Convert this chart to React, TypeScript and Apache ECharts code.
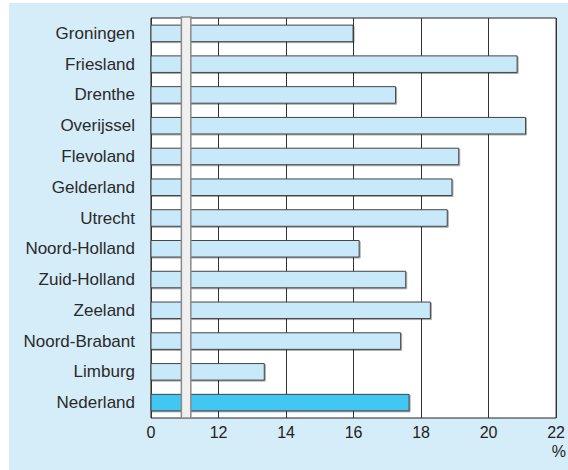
import React, { useEffect, useRef } from "react";
import * as echarts from "echarts";

const regions = [
  "Groningen",
  "Friesland",
  "Drenthe",
  "Overijssel",
  "Flevoland",
  "Gelderland",
  "Utrecht",
  "Noord-Holland",
  "Zuid-Holland",
  "Zeeland",
  "Noord-Brabant",
  "Limburg",
  "Nederland",
];
const shares = [16.0, 20.86, 17.26, 21.11, 19.13, 18.93, 18.79, 16.18, 17.56, 18.29, 17.41, 13.37, 17.66];
const highlighted = "Nederland";

const axisMin = 10;
const axisMax = 22;
const axisStep = 2;
const tickLabels: Record<number, string> = { 10: "0", 12: "12", 14: "14", 16: "16", 18: "18", 20: "20", 22: "22" };
const unitLabel = "%";
const breakStart = 10.9;
const breakEnd = 11.18;

const FONT = "'Liberation Sans', Arial, sans-serif";

export default function App() {
  const ref = useRef<HTMLDivElement>(null);
  useEffect(() => {
    if (!ref.current) return;
    const chart = echarts.init(ref.current, undefined, { renderer: "svg" });
    const option: any = {
      animation: false,
      backgroundColor: "#d5ecf9",
      grid: {
        left: 142,
        top: 15,
        right: 8,
        bottom: 52,
        show: true,
        backgroundColor: "#ffffff",
        borderColor: "#222222",
        borderWidth: 1,
      },
      xAxis: {
        type: "value",
        min: axisMin,
        max: axisMax,
        interval: axisStep,
        axisLine: { show: false },
        axisTick: { show: false },
        splitLine: { show: true, lineStyle: { color: "#333333", width: 1 } },
        axisLabel: {
          margin: 6,
          fontSize: 16,
          color: "#222222",
          fontFamily: FONT,
          formatter: (v: number) => tickLabels[v] ?? String(v),
        },
      },
      yAxis: {
        type: "category",
        inverse: true,
        data: regions,
        axisLine: { show: false },
        axisTick: { show: false },
        splitLine: { show: false },
        axisLabel: { margin: 16, fontSize: 17, color: "#2a2a2a", fontFamily: FONT },
      },
      series: [
        {
          type: "bar",
          barWidth: "57%",
          clip: true,
          data: shares.map((v, i) => ({
            value: v,
            itemStyle: {
              color: regions[i] === highlighted ? "#42c7f3" : "#c7e9f9",
              borderColor: "#444444",
              borderWidth: 1,
              shadowColor: "rgba(0,0,0,0.35)",
              shadowOffsetX: 1,
              shadowOffsetY: 1,
              shadowBlur: 0,
            },
          })),
        },
      ],
    };
    chart.setOption(option);
    const x1 = chart.convertToPixel({ xAxisIndex: 0 }, breakStart) as number;
    const x2 = chart.convertToPixel({ xAxisIndex: 0 }, breakEnd) as number;
    const top = 15;
    const bottom = 467 - 52;
    chart.setOption({
      graphic: [
        {
          type: "rect",
          z: 100,
          shape: { x: x1, y: top - 1, width: x2 - x1, height: bottom - top + 1 },
          style: { fill: "#f0f0f0", stroke: "#8a8a8a", lineWidth: 1.5 },
        },
        {
          type: "text",
          z: 100,
          x: 557,
          y: 448,
          style: {
            text: unitLabel,
            fontSize: 16,
            fill: "#222222",
            fontFamily: FONT,
            align: "right",
            verticalAlign: "middle",
          },
        },
      ],
    });
    return () => chart.dispose();
  }, []);
  return (
    <div style={{ position: "fixed", left: 0, top: 0, width: 568, height: 470, background: "#ffffff" }}>
      <div ref={ref} style={{ position: "absolute", left: 9, top: 3, width: 559, height: 467 }} />
    </div>
  );
}
